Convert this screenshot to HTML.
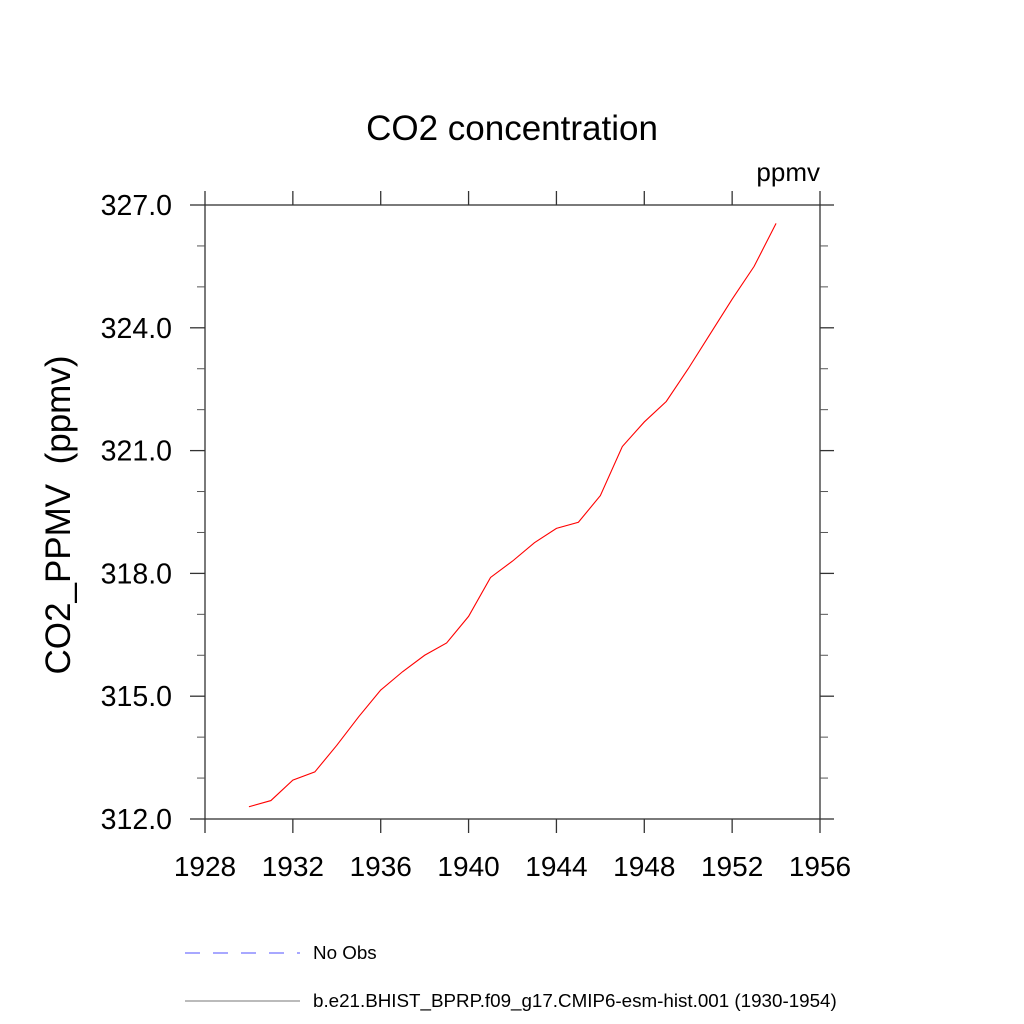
<!DOCTYPE html>
<html><head><meta charset="utf-8"><style>body{margin:0;background:#fff}svg{display:block}text{font-family:"Liberation Sans",sans-serif;fill:#000}</style></head>
<body>
<svg id="chart" width="1024" height="1024" viewBox="0 0 1024 1024">
<text x="512" y="140" font-size="35" text-anchor="middle">CO2 concentration</text>
<text x="820" y="181" font-size="26" text-anchor="end">ppmv</text>
<text transform="translate(70,515) rotate(-90)" font-size="35" text-anchor="middle" xml:space="preserve">CO2_PPMV  (ppmv)</text>
<g id="axes"></g>
<g id="series"></g>
<g>
<line x1="185" y1="953" x2="300" y2="953" stroke="#5050ff" stroke-width="1" stroke-dasharray="15,13"/>
<text x="313" y="959" font-size="18.8">No Obs</text>
<line x1="185" y1="1001" x2="300" y2="1001" stroke="#777" stroke-width="1"/>
<text x="313" y="1007" font-size="18.8">b.e21.BHIST_BPRP.f09_g17.CMIP6-esm-hist.001 (1930-1954)</text>
</g>
</svg>
<script>
const years=[1930,1931,1932,1933,1934,1935,1936,1937,1938,1939,1940,1941,1942,1943,1944,1945,1946,1947,1948,1949,1950,1951,1952,1953,1954];
const co2=[312.3,312.45,312.95,313.15,313.8,314.5,315.15,315.6,316.0,316.3,316.95,317.9,318.3,318.75,319.1,319.25,319.9,321.1,321.7,322.2,323.0,323.85,324.7,325.5,326.55];
const xTicks=[1928,1932,1936,1940,1944,1948,1952,1956];
const yTicks=[312,315,318,321,324,327];
const yMinor=[313,314,316,317,319,320,322,323,325,326];
const X0=205,X1=820,Y0=819,Y1=205;
const sx=v=>X0+(v-1928)/(1956-1928)*(X1-X0);
const sy=v=>Y0-(v-312)/(327-312)*(Y0-Y1);
const NS='http://www.w3.org/2000/svg';
const ax=document.getElementById('axes');
function mk(tag,attrs,parent){const e=document.createElementNS(NS,tag);for(const k in attrs)e.setAttribute(k,attrs[k]);parent.appendChild(e);return e;}
const frame=mk('rect',{x:X0,y:Y1,width:X1-X0,height:Y0-Y1,fill:'none',stroke:'#333','stroke-width':1.3},ax);


xTicks.forEach(t=>{const x=sx(t);
 const a=mk('line',{x1:x,y1:Y0,x2:x,y2:Y0+14,stroke:'#333','stroke-width':1.3},ax);
 
 
 const b=mk('line',{x1:x,y1:Y1,x2:x,y2:Y1-14,stroke:'#333','stroke-width':1.3},ax);
 
 
 const l=mk('text',{x:x,y:876,'font-size':28,'text-anchor':'middle'},ax);l.textContent=t;
 
 });
yTicks.forEach(t=>{const y=sy(t);
 const a=mk('line',{x1:X0-15,y1:y,x2:X0,y2:y,stroke:'#333','stroke-width':1.3},ax);
 
 
 const b=mk('line',{x1:X1,y1:y,x2:X1+14,y2:y,stroke:'#333','stroke-width':1.3},ax);
 
 
 const l=mk('text',{x:172,y:y+10,'font-size':28.5,'text-anchor':'end'},ax);l.textContent=t.toFixed(1);
 
 });
yMinor.forEach(t=>{const y=sy(t);
 const a=mk('line',{x1:X0-8,y1:y,x2:X0,y2:y,stroke:'#555','stroke-width':1},ax);
 
 
 const b=mk('line',{x1:X1,y1:y,x2:X1+8,y2:y,stroke:'#555','stroke-width':1},ax);
 
 });
const pts=years.map((y,i)=>sx(y)+','+sy(co2[i])).join(' ');
const line=mk('polyline',{points:pts,fill:'none',stroke:'#ff0000','stroke-width':1.1},document.getElementById('series'));


</script>
</body></html>
